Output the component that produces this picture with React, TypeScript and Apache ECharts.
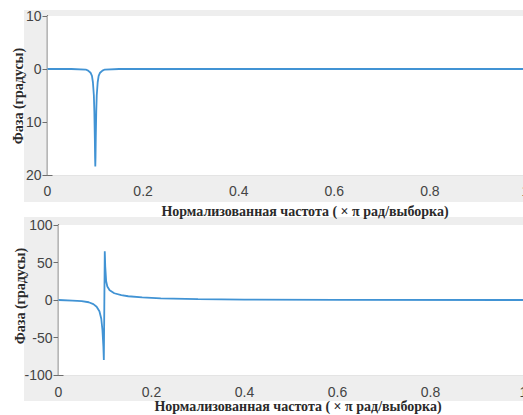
import React, { useEffect, useRef } from "react";
import * as echarts from "echarts";

// Top plot: phase (degrees) vs normalized frequency
const topFreq = [0, 0.05, 0.08, 0.085, 0.09, 0.093, 0.095, 0.097, 0.098, 0.099, 0.0995, 0.1, 0.1005, 0.101, 0.102, 0.103, 0.105, 0.107, 0.11, 0.115, 0.12, 0.15, 0.4, 0.7, 1];
const topPhase = [0, 0, -0.1, -0.3, -0.7, -1.3, -2.5, -5, -8, -13, -16.5, -18.4, -16.5, -13, -8, -5, -2.5, -1.3, -0.7, -0.3, -0.1, 0, 0, 0, 0];

// Bottom plot
const bottomFreq = [0, 0.03, 0.05, 0.065, 0.075, 0.082, 0.088, 0.092, 0.0945, 0.0965, 0.0975, 0.0985, 0.0995, 0.1005, 0.1025, 0.105, 0.11, 0.12, 0.135, 0.15, 0.18, 0.22, 0.3, 0.4, 0.6, 1];
const bottomPhase = [0, -0.7, -1.5, -3, -5.5, -9, -15, -25, -40, -62, -80, -10, 65, 45, 25, 18, 13, 9, 6.5, 5, 3.5, 2.2, 1.2, 0.6, 0.2, 0];

const xMin = 0;
const xMax = 1;
const xStep = 0.2;
const topYMin = -20;
const topYMax = 10;
const topYStep = 10;
const botYMin = -100;
const botYMax = 100;
const botYStep = 50;

const xLabelText = "Нормализованная частота ( × π рад/выборка)";
const yLabelText = "Фаза (градусы)";

const AXIS = "#6e6e6e";
const GRID = "#e4e4e4";
const LABEL = "#444";
const LINE = "#4193d4";
const SERIF = "'Liberation Serif', 'Times New Roman', 'DejaVu Serif', serif";

function mainX(gridIndex: number, margin: number) {
  return {
    type: "value",
    gridIndex,
    min: xMin,
    max: xMax,
    interval: xStep,
    position: "bottom",
    axisLine: { show: true, lineStyle: { color: AXIS, width: 1.3 } },
    axisTick: { show: true, inside: true, length: 5, lineStyle: { color: AXIS } },
    axisLabel: { color: LABEL, fontSize: 14, fontFamily: "Liberation Sans", margin },
    splitLine: { show: true, lineStyle: { color: GRID, width: 1 } },
  };
}
function topX(gridIndex: number) {
  return {
    type: "value",
    gridIndex,
    min: xMin,
    max: xMax,
    interval: xStep,
    position: "top",
    axisLine: { show: true, lineStyle: { color: AXIS, width: 1.3 } },
    axisTick: { show: true, inside: true, length: 5, lineStyle: { color: AXIS } },
    axisLabel: { show: false },
    splitLine: { show: false },
  };
}
function mainY(gridIndex: number, min: number, max: number, interval: number, formatter?: (v: number) => string) {
  return {
    type: "value",
    gridIndex,
    min,
    max,
    interval,
    position: "left",
    axisLine: { show: true, lineStyle: { color: AXIS, width: 1.3 } },
    axisTick: { show: true, inside: true, length: 5, lineStyle: { color: AXIS } },
    axisLabel: { color: LABEL, fontSize: 14, fontFamily: "Liberation Sans", margin: 6, formatter },
    splitLine: { show: true, lineStyle: { color: GRID, width: 1 } },
  };
}
function rightY(gridIndex: number, min: number, max: number, interval: number) {
  return {
    type: "value",
    gridIndex,
    min,
    max,
    interval,
    position: "right",
    axisLine: { show: true, lineStyle: { color: AXIS, width: 1.3 } },
    axisTick: { show: true, inside: true, length: 5, lineStyle: { color: AXIS } },
    axisLabel: { show: false },
    splitLine: { show: false },
  };
}

export default function App() {
  const ref = useRef<HTMLDivElement>(null);
  useEffect(() => {
    if (!ref.current) return;
    const chart = echarts.init(ref.current, undefined, { renderer: "svg" });
    const topData = topFreq.map((f, i) => [f, topPhase[i]]);
    const botData = bottomFreq.map((f, i) => [f, bottomPhase[i]]);
    const textStyle = {
      fill: "#2a2a2a",
      fontFamily: SERIF,
      fontSize: 14,
      fontWeight: "bold",
      align: "center",
      verticalAlign: "middle",
    };
    chart.setOption({
      animation: false,
      backgroundColor: "#ffffff",
      grid: [
        { left: 47.5, right: -2.5, top: 16, height: 159, show: true, backgroundColor: "#ffffff", borderWidth: 0, z: 1, outerBoundsMode: "none", containLabel: false },
        { left: 58.5, right: -0.5, top: 225, height: 150, show: true, backgroundColor: "#ffffff", borderWidth: 0, z: 1, outerBoundsMode: "none", containLabel: false },
      ],
      xAxis: [mainX(0, 9), topX(0), mainX(1, 10), topX(1)],
      yAxis: [
        mainY(0, topYMin, topYMax, topYStep, (v: number) => String(Math.abs(v))),
        rightY(0, topYMin, topYMax, topYStep),
        mainY(1, botYMin, botYMax, botYStep),
        rightY(1, botYMin, botYMax, botYStep),
      ],
      graphic: [
        { type: "rect", z: -10, shape: { x: 24, y: 10, width: 499, height: 192 }, style: { fill: "#eeeeee" } },
        { type: "rect", z: -10, shape: { x: 24, y: 217, width: 499, height: 184 }, style: { fill: "#eeeeee" } },
        { type: "text", x: 305, y: 211, style: { ...textStyle, text: xLabelText } },
        { type: "text", x: 298, y: 406, style: { ...textStyle, text: xLabelText } },
        { type: "text", x: 18, y: 96, rotation: Math.PI / 2, style: { ...textStyle, text: yLabelText } },
        { type: "text", x: 20, y: 296, rotation: Math.PI / 2, style: { ...textStyle, text: yLabelText } },
      ],
      series: [
        {
          type: "line",
          xAxisIndex: 0,
          yAxisIndex: 0,
          data: topData,
          showSymbol: false,
          lineStyle: { color: LINE, width: 1.8 },
          z: 5,
        },
        {
          type: "line",
          xAxisIndex: 2,
          yAxisIndex: 2,
          data: botData,
          showSymbol: false,
          lineStyle: { color: LINE, width: 1.8 },
          z: 5,
        },
      ],
    });
    return () => chart.dispose();
  }, []);
  return <div ref={ref} style={{ position: "fixed", left: 0, top: 0, width: 523, height: 415 }} />;
}
